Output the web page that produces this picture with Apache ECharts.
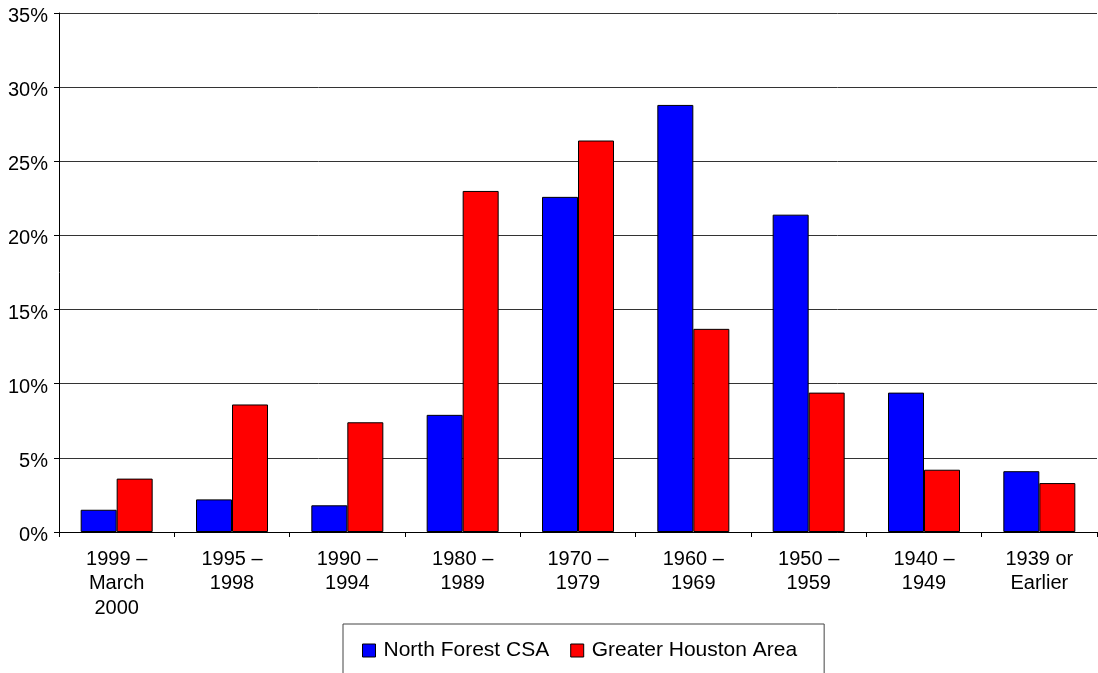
<!DOCTYPE html>
<html>
<head>
<meta charset="utf-8">
<script src="https://cdn.jsdelivr.net/npm/echarts@6/dist/echarts.min.js"></script>
<style>
  html, body { margin: 0; padding: 0; background: #fff; }
  #chart { width: 1098px; height: 673px; }
</style>
</head>
<body>
<div id="chart"></div>
<script>
const categories = ['1999 –\nMarch\n2000', '1995 –\n1998', '1990 –\n1994', '1980 –\n1989', '1970 –\n1979',
  '1960 –\n1969', '1950 –\n1959', '1940 –\n1949', '1939 or\nEarlier']
const northForest = [1.5, 2.2, 1.8, 7.9, 22.6, 28.8, 21.4, 9.4, 4.1]
const greaterHouston = [3.6, 8.6, 7.4, 23.0, 26.4, 13.7, 9.4, 4.2, 3.3]

const font = 'Liberation Sans, Arial, sans-serif'

const chart = echarts.init(document.getElementById('chart'))

chart.setOption({
  animation: false,
  grid: { left: 59, right: 1, top: 13, bottom: 141 },
  legend: {
    left: 343,
    top: 624,
    padding: [16, 27, 30, 19],
    borderColor: '#444',
    borderWidth: 1,
    itemWidth: 13,
    itemHeight: 13,
    itemGap: 21,
    icon: 'rect',
    itemStyle: { borderColor: '#000', borderWidth: 1 },
    textStyle: { fontFamily: font, fontSize: 21, color: '#000', padding: [0, 0, 0, 3] },
    data: ['North Forest CSA', 'Greater Houston Area']
  },
  xAxis: {
    type: 'category',
    data: categories,
    axisLine: { lineStyle: { color: '#000', width: 1 } },
    axisTick: { show: true, length: 5, lineStyle: { color: '#000' } },
    axisLabel: { fontFamily: font, fontSize: 20, color: '#000', lineHeight: 24.5, margin: 15, interval: 0 }
  },
  yAxis: {
    type: 'value',
    min: 0,
    max: 35,
    interval: 5,
    axisLine: { show: true, lineStyle: { color: '#000', width: 1 } },
    axisTick: { show: true, length: 5, lineStyle: { color: '#000' } },
    splitLine: { lineStyle: { color: '#333', width: 1 } },
    axisLabel: {
      color: '#000',
      margin: 11,
      formatter: v => '{a|' + v + '%}',
      rich: { a: { fontFamily: font, fontSize: 20, color: '#000', padding: [7, 0, 0, 0] } }
    }
  },
  series: [
    {
      name: 'North Forest CSA',
      type: 'bar',
      data: northForest,
      barWidth: 36,
      barGap: '0%',
      itemStyle: { color: '#0000ff', borderColor: '#000', borderWidth: 1 }
    },
    {
      name: 'Greater Houston Area',
      type: 'bar',
      data: greaterHouston,
      barWidth: 36,
      itemStyle: { color: '#ff0000', borderColor: '#000', borderWidth: 1 }
    }
  ]
})
</script>
</body>
</html>
